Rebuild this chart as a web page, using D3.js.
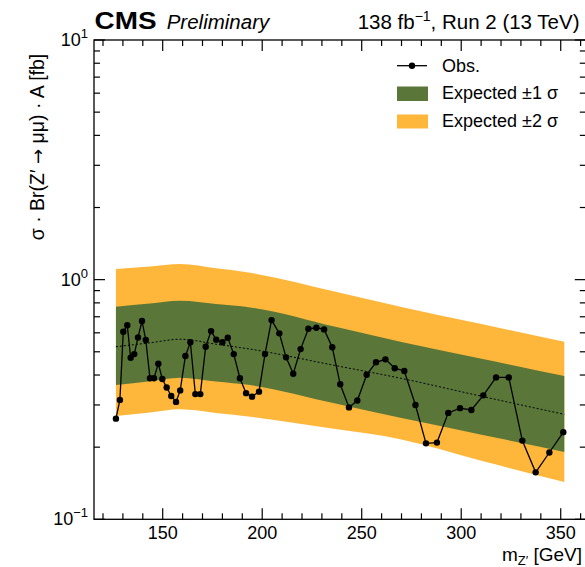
<!DOCTYPE html>
<html><head><meta charset="utf-8">
<script src="https://cdn.jsdelivr.net/npm/d3@7"></script>
<style>
html,body{margin:0;padding:0;background:#fff;}
svg{display:block;font-family:"Liberation Sans",Arial,Helvetica,sans-serif;}
</style></head>
<body>
<svg id="chart" width="585" height="567"></svg>
<script>
// ---- data ----
const obsMass = [126.5,128.5,130.2,132.2,133.9,135.7,137.6,139.6,141.5,143.6,145.6,147.8,149.8,152.0,154.3,156.7,158.8,161.4,163.9,166.4,168.9,171.6,174.3,176.9,180.0,182.7,185.7,188.8,191.9,194.9,198.4,201.4,204.7,208.6,212.0,215.6,219.3,223.2,227.2,231.1,235.2,239.2,243.6,247.8,252.5,257.2,261.9,266.6,271.4,277.0,282.3,287.8,293.5,299.4,305.1,311.1,317.5,323.9,330.7,337.4,344.3,351.3];
const obsValue = [0.263,0.315,0.606,0.645,0.472,0.489,0.574,0.672,0.560,0.388,0.388,0.446,0.385,0.355,0.327,0.309,0.345,0.480,0.548,0.333,0.333,0.525,0.610,0.562,0.548,0.572,0.489,0.388,0.336,0.325,0.341,0.489,0.678,0.597,0.474,0.405,0.513,0.624,0.630,0.620,0.522,0.366,0.293,0.313,0.401,0.452,0.465,0.427,0.416,0.300,0.2075,0.209,0.278,0.291,0.286,0.329,0.391,0.391,0.213,0.157,0.190,0.231];
const bandMass = [126.5,143.6,158.8,176.8,194.0,236.8,269.4,309.6,351.8];
const exp2Up  = [1.107,1.136,1.162,1.115,1.068,0.890,0.771,0.654,0.551];
const exp1Up  = [0.771,0.795,0.817,0.791,0.766,0.636,0.551,0.469,0.396];
const expMed  = [0.525,0.545,0.564,0.538,0.513,0.438,0.388,0.327,0.274];
const exp1Dn  = [0.363,0.377,0.390,0.376,0.363,0.304,0.265,0.226,0.191];
const exp2Dn  = [0.270,0.279,0.288,0.278,0.268,0.238,0.216,0.176,0.143];
const xTickValues = [150,200,250,300,350];
const yTickExps = [-1,0,1];
const legendLabels = ["Obs.","Expected \u00b11 \u03c3","Expected \u00b12 \u03c3"];

// ---- layout ----
const L=94, R=585.8, T=40, B=519.3;
const green="#5a7739", yellow="#feb73a";
const svg=d3.select("#chart");
const x=d3.scaleLinear().domain([115.48,362.6]).range([L,R]);
const y=d3.scaleLog().domain([0.1,10]).range([B,T]);

const band = bandMass.map((m,i)=>({m,u2:exp2Up[i],u1:exp1Up[i],md:expMed[i],d1:exp1Dn[i],d2:exp2Dn[i]}));
const curve=d3.curveMonotoneX;
const area=(hi,lo)=>d3.area().x(d=>x(d.m)).y0(d=>y(d[lo])).y1(d=>y(d[hi])).curve(curve);

svg.append("path").datum(band).attr("d",area("u2","d2")).attr("fill",yellow);
svg.append("path").datum(band).attr("d",area("u1","d1")).attr("fill",green);
svg.append("path").datum(band)
  .attr("d",d3.line().x(d=>x(d.m)).y(d=>y(d.md)).curve(curve))
  .attr("fill","none").attr("stroke","#000").attr("stroke-width",1).attr("stroke-dasharray","2,2");

const obs=obsMass.map((m,i)=>({m,v:obsValue[i]}));
svg.append("path").datum(obs)
  .attr("d",d3.line().x(d=>x(d.m)).y(d=>y(d.v)))
  .attr("fill","none").attr("stroke","#000").attr("stroke-width",1.3);
svg.append("g").selectAll("circle").data(obs).join("circle")
  .attr("cx",d=>x(d.m)).attr("cy",d=>y(d.v)).attr("r",3.2).attr("fill","#000");

// ---- axes ----
const majLen=11, minLen=6;
const xMinor=d3.range(120,361,10);
svg.append("rect").attr("x",L).attr("y",T).attr("width",R-L).attr("height",B-T)
  .attr("fill","none").attr("stroke","#000").attr("stroke-width",1.3);
const tickG=svg.append("g").attr("stroke","#000").attr("stroke-width",1.2);
xMinor.forEach(v=>{
  const len = v%50===0?majLen:minLen;
  tickG.append("line").attr("x1",x(v)).attr("x2",x(v)).attr("y1",B).attr("y2",B-len);
  tickG.append("line").attr("x1",x(v)).attr("x2",x(v)).attr("y1",T).attr("y2",T+len);
});
const yMinor=[];
[0.1,1].forEach(d=>{for(let k=1;k<=9;k++) yMinor.push(d*k);});
yMinor.push(10);
yMinor.forEach(v=>{
  const major = Math.abs(Math.log10(v)-Math.round(Math.log10(v)))<1e-9;
  const len = major?majLen:minLen;
  tickG.append("line").attr("x1",L).attr("x2",L+len).attr("y1",y(v)).attr("y2",y(v));
  tickG.append("line").attr("x1",R).attr("x2",R-len).attr("y1",y(v)).attr("y2",y(v));
});

// x tick labels
svg.append("g").selectAll("text").data(xTickValues).join("text")
  .attr("x",d=>x(d)).attr("y",538.5).attr("text-anchor","middle")
  .attr("font-size",18).text(d=>d);

// y tick labels
const yl=svg.append("g");
yTickExps.forEach(e=>{
  const t=yl.append("text").attr("x",88).attr("y",y(Math.pow(10,e))+6).attr("text-anchor","end").attr("font-size",18);
  t.append("tspan").text("10");
  t.append("tspan").attr("font-size",13).attr("dy",-8).text(e<0?"\u2212"+Math.abs(e):String(e));
});

// axis titles
const xt=svg.append("text").attr("x",582).attr("y",561).attr("text-anchor","end").attr("font-size",19);
xt.append("tspan").text("m");
xt.append("tspan").attr("font-size",13).attr("dy",3.5).text("Z\u2032");
xt.append("tspan").attr("dy",-3.5).text(" [GeV]");

const yt=svg.append("text").attr("transform","translate(44,147) rotate(-90)")
  .attr("text-anchor","middle").attr("font-size",19.5);
yt.append("tspan").text("\u03c3 \u00b7 Br(Z\u2032 ");
yt.append("tspan").attr("font-family","DejaVu Sans").attr("font-size",18).text("\u2192");
yt.append("tspan").text(" \u03bc\u03bc) \u00b7 A [fb]");

// header
svg.append("text").attr("x",94.5).attr("y",29.3).attr("font-size",24).attr("font-weight","bold")
  .attr("textLength",62).attr("lengthAdjust","spacingAndGlyphs").text("CMS");
svg.append("text").attr("x",166.7).attr("y",29.3).attr("font-size",20.5).attr("font-style","italic").text("Preliminary");
const lumi=svg.append("text").attr("x",579.5).attr("y",29.3).attr("text-anchor","end").attr("font-size",20.5);
lumi.append("tspan").text("138 fb");
lumi.append("tspan").attr("font-size",14).attr("dy",-8).text("\u22121");
lumi.append("tspan").attr("dy",8).text(", Run 2 (13 TeV)");

// legend
const lg=svg.append("g");
lg.append("line").attr("x1",397).attr("x2",427).attr("y1",65.7).attr("y2",65.7).attr("stroke","#000").attr("stroke-width",1.3);
lg.append("circle").attr("cx",412).attr("cy",65.7).attr("r",3.2).attr("fill","#000");
lg.append("rect").attr("x",397).attr("y",86.5).attr("width",31).attr("height",14.5).attr("fill",green);
lg.append("rect").attr("x",397).attr("y",114.5).attr("width",31).attr("height",14).attr("fill",yellow);
[72,98.5,127].forEach((yy,i)=>{
  lg.append("text").attr("x",442).attr("y",yy).attr("font-size",18).text(legendLabels[i]);
});
</script>
</body></html>
